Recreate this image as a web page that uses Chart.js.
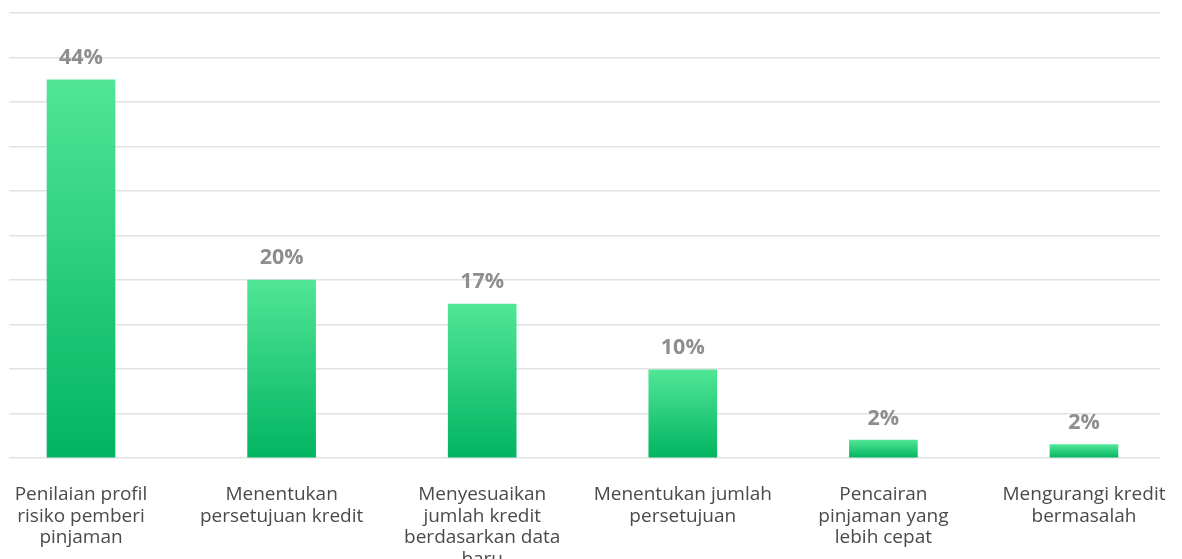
<!DOCTYPE html>
<html>
<head>
<meta charset="utf-8">
<script src="https://cdn.jsdelivr.net/npm/chart.js@4"></script>
<style>
  html, body { margin: 0; padding: 0; background: #fff; overflow: hidden; }
  #chart { display: block; }
</style>
</head>
<body>
<canvas id="chart" width="1182" height="559"></canvas>
<script>
// Chart data
const categories = [
    ['Penilaian profil', 'risiko pemberi', 'pinjaman'],
    ['Menentukan', 'persetujuan kredit'],
    ['Menyesuaikan', 'jumlah kredit', 'berdasarkan data', 'baru'],
    ['Menentukan jumlah', 'persetujuan'],
    ['Pencairan', 'pinjaman yang', 'lebih cepat'],
    ['Mengurangi kredit', 'bermasalah']
];
const barValues = [42.5, 20, 17.3, 9.9, 2, 1.5];
const valueLabels = ['44%', '20%', '17%', '10%', '2%', '2%'];
const yTicks = { min: 0, max: 50, step: 5 };

const FONT = "'Open Sans', 'Noto Sans', sans-serif";

// Vertical green gradient per bar, from its top to the baseline
function barGradient(ctx) {
    const chart = ctx.chart;
    const y = chart.scales.y;
    if (!y || ctx.type !== 'data') return '#2dcf7c';
    const top = y.getPixelForValue(ctx.raw.y);
    const bottom = y.getPixelForValue(0);
    if (!isFinite(top) || !isFinite(bottom) || top === bottom) return '#2dcf7c';
    const g = chart.ctx.createLinearGradient(0, top, 0, bottom);
    g.addColorStop(0, '#50e696');
    g.addColorStop(1, '#02b461');
    return g;
}

// Draw the percentage above each bar
const valueLabelPlugin = {
    id: 'valueLabels',
    afterDatasetsDraw(chart) {
        const ctx = chart.ctx;
        const meta = chart.getDatasetMeta(0);
        ctx.save();
        ctx.font = 'bold 21.5px ' + FONT;
        ctx.fillStyle = '#8e8e8e';
        ctx.textAlign = 'center';
        ctx.textBaseline = 'bottom';
        meta.data.forEach((bar, i) => {
            ctx.fillText(valueLabels[i], bar.x, bar.y - 11);
        });
        ctx.restore();
    }
};

const chart = new Chart(document.getElementById('chart'), {
    type: 'bar',
    data: {
        datasets: [{
            data: barValues.map((v, i) => ({ x: i, y: v })),
            backgroundColor: barGradient,
            borderWidth: 0,
            barThickness: 68
        }]
    },
    options: {
        responsive: false,
        animation: false,
        layout: { padding: { left: 9, right: 22, top: 13, bottom: 0 } },
        plugins: {
            legend: { display: false },
            tooltip: { enabled: false }
        },
        scales: {
            x: {
                type: 'linear',
                offset: false,
                min: -0.359,
                max: 5.379,
                grid: { display: false, offset: false },
                border: { display: false },
                afterFit(scale) {
                    // fixed axis height, and no extra side padding for the edge labels
                    scale.height = 101;
                    scale.paddingLeft = 0;
                    scale.paddingRight = 0;
                },
                ticks: {
                    stepSize: 1,
                    includeBounds: false,
                    autoSkip: false,
                    maxRotation: 0,
                    padding: 18,
                    color: '#4a4a4a',
                    font: { family: FONT, size: 19, lineHeight: 1.13 },
                    callback: (value) => categories[value] || ''
                }
            },
            y: {
                min: yTicks.min,
                max: yTicks.max,
                border: { display: false },
                grid: { color: '#e2e2e2', lineWidth: 1.5, drawTicks: false },
                ticks: { display: false, stepSize: yTicks.step }
            }
        }
    },
    plugins: [valueLabelPlugin]
});
</script>
</body>
</html>
